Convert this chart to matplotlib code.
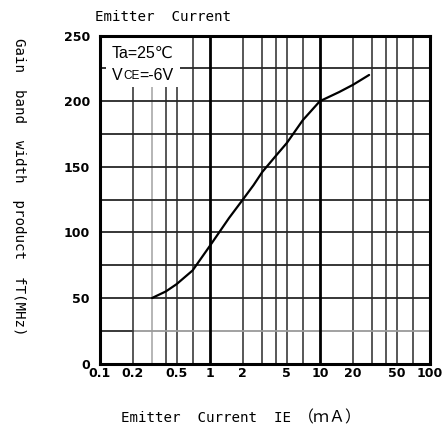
import matplotlib
matplotlib.use("Agg")
import matplotlib.pyplot as plt
import numpy as np

# fT vs emitter current (Ta=25C, VCE=-6V)
ie_ma = [0.3, 0.4, 0.5, 0.7, 1.0, 1.5, 2.0, 2.5, 3.0, 4.0, 5.0, 7.0, 10.0, 15.0, 20.0, 28.0]
ft_mhz = [50, 55, 60.5, 71, 89.5, 111, 125, 136, 146, 158.5, 168, 185.5, 200, 207, 212.5, 220]

xticks = [0.1, 0.2, 0.5, 1, 2, 5, 10, 20, 50, 100]
xtick_labels = ["0.1", "0.2", "0.5", "1", "2", "5", "10", "20", "50", "100"]
yticks = [0, 50, 100, 150, 200, 250]

label_font = ["DejaVu Sans Mono", "Noto Sans CJK JP"]
note_font = ["Liberation Sans", "DejaVu Sans"]

fig = plt.figure(figsize=(4.47, 4.36), dpi=100)
ax = fig.add_axes([99.5 / 447, 1 - 363.6 / 436, 330.5 / 447, 328 / 436])
ax.set_xscale("log")
ax.set_xlim(0.1, 100)
ax.set_ylim(0, 250)

# vertical grid: decades heavy black, 2-3-4-5-7 in grey
for dec in [0.1, 1, 10]:
    for m in [2, 3, 4, 5, 7]:
        x = dec * m
        col = "#b0b0b0" if np.isclose(x, 0.3) else "#4a4a4a"
        ax.axvline(x, color=col, lw=1.3, zorder=1)
for x in [1, 10]:
    ax.axvline(x, color="black", lw=2.0, zorder=2)

# horizontal grid every 25 MHz
for y in range(25, 250, 25):
    if y == 25:
        ax.axhline(y, color="#9a9a9a", lw=1.3, zorder=1)
        ax.plot([0.1, 0.2], [y, y], color="#333333", lw=1.3, zorder=1)
    else:
        ax.axhline(y, color="#262626", lw=1.3, zorder=1)

# condition box
ax.add_patch(plt.Rectangle((0.02, 0.843), 0.224, 0.15, transform=ax.transAxes,
                           facecolor="white", edgecolor="none", zorder=3))
ax.text(0.038, 0.932, "Ta=25℃", transform=ax.transAxes, fontsize=11.5,
        family=note_font, va="baseline", zorder=4)
t1 = ax.text(0.038, 0.865, "V", transform=ax.transAxes, fontsize=11.5,
             family=note_font, va="baseline", zorder=4)
t2 = ax.annotate("CE", xy=(1, 0), xycoords=t1, xytext=(0.3, 0.6), textcoords="offset points",
                 fontsize=8.5, family=note_font, va="bottom", zorder=4)
ax.annotate("=-6V", xy=(1, 0), xycoords=t2, xytext=(0, -0.6), textcoords="offset points",
            fontsize=11.5, family=note_font, va="bottom", zorder=4)

ax.plot(ie_ma, ft_mhz, color="black", lw=1.6, zorder=5,
        solid_joinstyle="round", solid_capstyle="round")

ax.set_xticks(xticks)
ax.set_xticklabels(xtick_labels)
ax.xaxis.set_minor_locator(matplotlib.ticker.NullLocator())
ax.set_yticks(yticks)
ax.tick_params(length=0, labelsize=9)
ax.tick_params(axis="x", pad=2.5)
ax.tick_params(axis="y", pad=7)
for lab in ax.get_xticklabels() + ax.get_yticklabels():
    lab.set_family("DejaVu Sans")
    lab.set_fontweight("bold")

for s in ax.spines.values():
    s.set_linewidth(2.2)
    s.set_zorder(6)

fig.text(95 / 447, 1 - 17 / 436, "Emitter  Current", fontsize=10.2,
         family=label_font, va="center", ha="left")
fig.text(19 / 447, 1 - 187 / 436, "Gain  band  width  product  fT(MHz)",
         fontsize=10.2, family=label_font, rotation=-90, va="center", ha="center")
fig.text(121 / 447, 1 - 418 / 436, "Emitter  Current  IE", fontsize=10.2,
         family=label_font, va="center", ha="left")
fig.text(330 / 447, 1 - 418 / 436, "（ｍＡ）", fontsize=11.5,
         family=["Noto Sans CJK JP"], va="center", ha="center")

fig.savefig("out.png", dpi=100)
